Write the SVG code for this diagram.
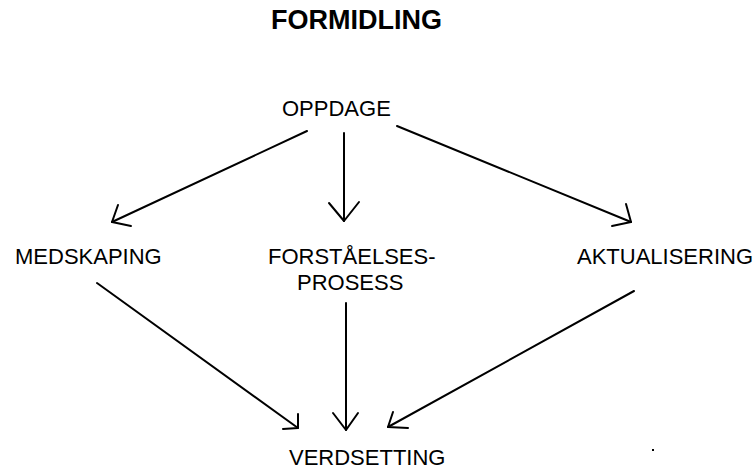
<svg xmlns="http://www.w3.org/2000/svg" width="754" height="470" viewBox="0 0 754 470">
  <style>
    .title { font-family: "Liberation Sans", Arial, sans-serif; font-size: 27px; font-weight: bold; fill: #000; }
    .label { font-family: "Liberation Sans", Arial, sans-serif; font-size: 22px; fill: #000; }
    .conn path { fill: none; stroke: #000; stroke-width: 2; stroke-linecap: round; stroke-linejoin: round; }
  </style>
  <rect width="754" height="470" fill="#fff"/>

  <text class="title" x="271" y="29">FORMIDLING</text>

  <g id="oppdage"><text class="label" x="282" y="116">OPPDAGE</text></g>
  <g id="medskaping"><text class="label" x="15" y="264">MEDSKAPING</text></g>
  <g id="forstaelsesprosess">
    <text class="label" x="268" y="264">FORSTÅELSES-</text>
    <text class="label" x="297" y="290">PROSESS</text>
  </g>
  <g id="aktualisering"><text class="label" x="577" y="264">AKTUALISERING</text></g>
  <g id="verdsetting"><text class="label" x="289" y="465">VERDSETTING</text></g>

  <g class="conn" id="connectors">
    <!-- OPPDAGE to MEDSKAPING -->
    <path d="M307 131 L112 222"/>
    <path d="M118 205 L112 222 L131 226"/>
    <!-- OPPDAGE to FORSTÅELSES-PROSESS -->
    <path d="M344 133 L344 221"/>
    <path d="M329 203 L344 221 L359 202"/>
    <!-- OPPDAGE to AKTUALISERING -->
    <path d="M397 126 L631 222"/>
    <path d="M626 204 L631 222 L612 226"/>
    <!-- MEDSKAPING to VERDSETTING -->
    <path d="M97 283 L298 428"/>
    <path d="M298 414 L298 428 L283 429"/>
    <!-- FORSTÅELSES-PROSESS to VERDSETTING -->
    <path d="M346 303 L346 430"/>
    <path d="M333 413 L346 430 L358 413"/>
    <!-- AKTUALISERING to VERDSETTING -->
    <path d="M634 291 L388 427"/>
    <path d="M393 412 L388 427 L408 428"/>
  </g>

  <rect x="652" y="449" width="2" height="2" fill="#000"/>
</svg>
